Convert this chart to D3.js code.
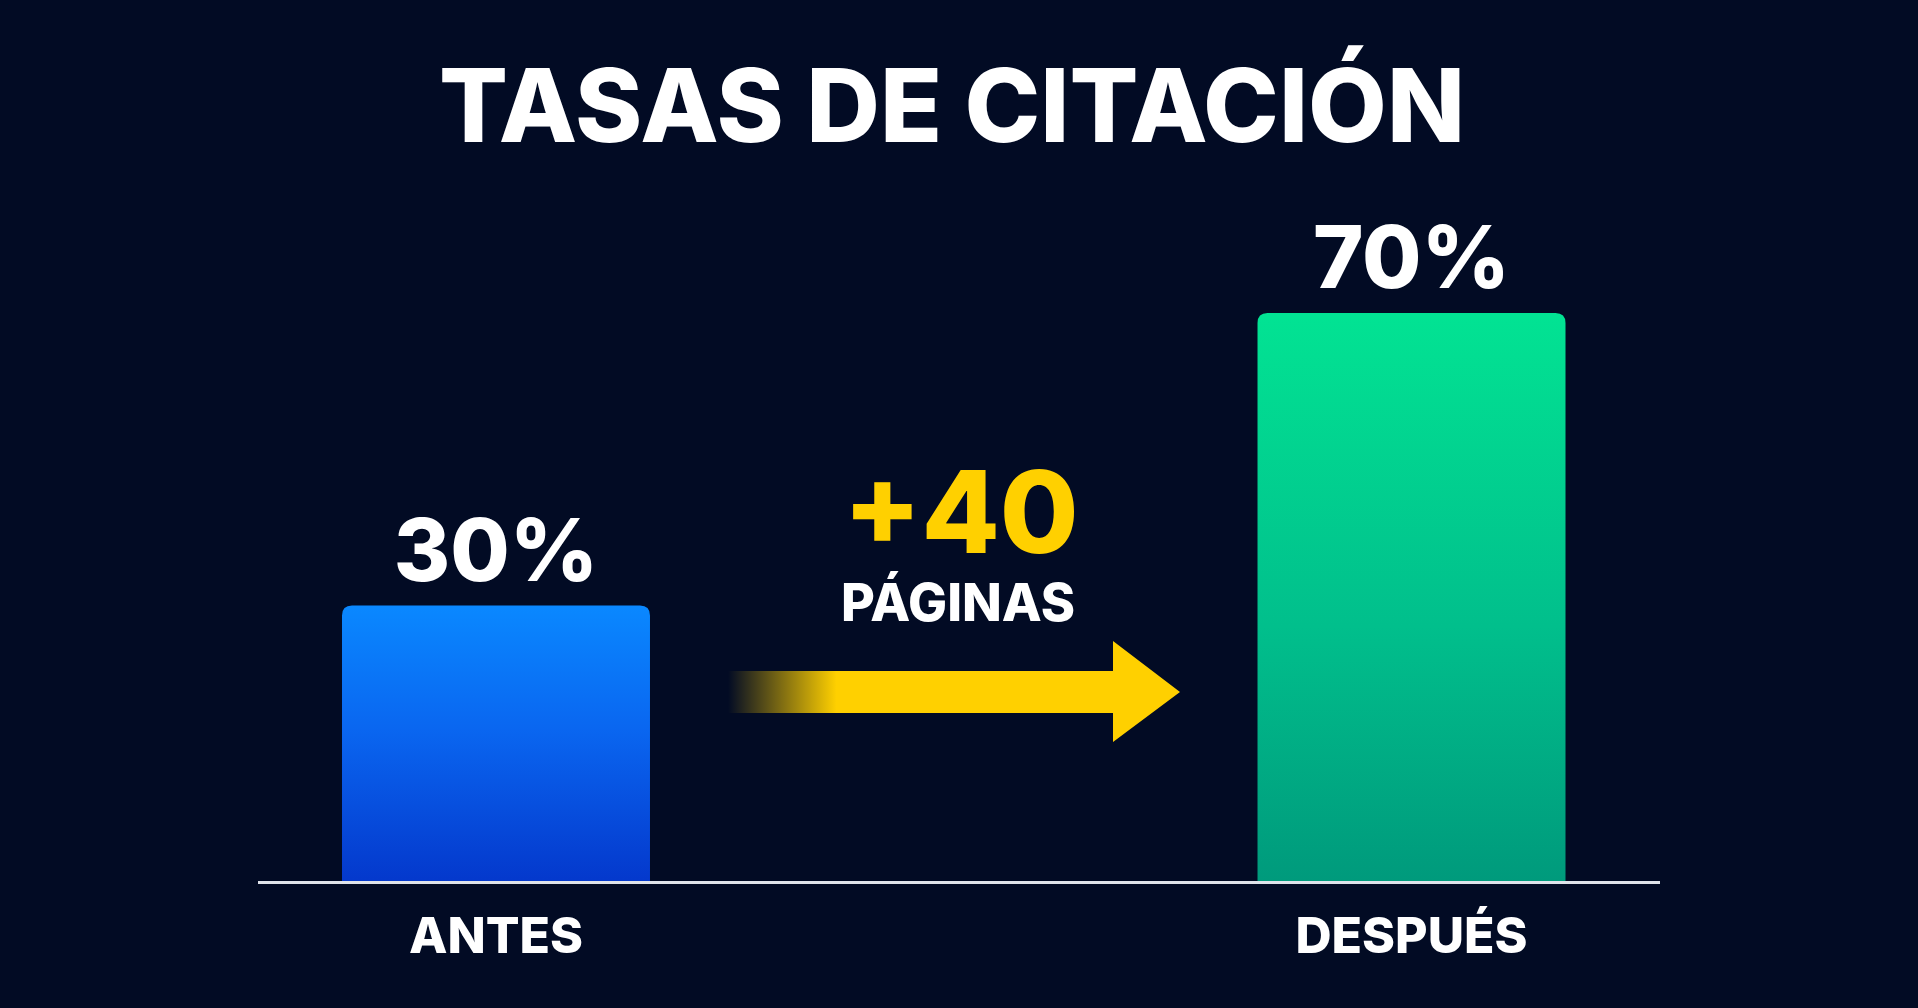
<!DOCTYPE html>
<html><head><meta charset="utf-8">
<script src="https://cdn.jsdelivr.net/npm/d3@7"></script>
<style>
html,body{margin:0;padding:0;background:#020b24;overflow:hidden}
svg{display:block}
text{font-family:Inter,"Noto Sans",sans-serif;font-weight:800}
</style></head><body>
<svg id="c" width="1918" height="1008"></svg>
<script>
const title = "TASAS DE CITACIÓN";
const categories = ["ANTES", "DESPUÉS"];
const values = [30, 70];
const valueLabels = ["30%", "70%"];
const deltaLabel = "+40";
const deltaSub = "PÁGINAS";

const W = 1918, H = 1008;
const svg = d3.select("#c");
const defs = svg.append("defs");

const gBlue = defs.append("linearGradient").attr("id","gBlue").attr("x1",0).attr("y1",0).attr("x2",0).attr("y2",1);
gBlue.append("stop").attr("offset","0%").attr("stop-color","#0a88ff");
gBlue.append("stop").attr("offset","45%").attr("stop-color","#0a66f0");
gBlue.append("stop").attr("offset","100%").attr("stop-color","#0438cc");
const gGreen = defs.append("linearGradient").attr("id","gGreen").attr("x1",0).attr("y1",0).attr("x2",0).attr("y2",1);
gGreen.append("stop").attr("offset","0%").attr("stop-color","#02e393");
gGreen.append("stop").attr("offset","55%").attr("stop-color","#01bf8c");
gGreen.append("stop").attr("offset","100%").attr("stop-color","#009a7c");
const gArrow = defs.append("linearGradient").attr("id","gArrow").attr("x1",0).attr("y1",0).attr("x2",1).attr("y2",0);
gArrow.append("stop").attr("offset","0%").attr("stop-color","#ffd000").attr("stop-opacity",0);
gArrow.append("stop").attr("offset","24%").attr("stop-color","#ffd000").attr("stop-opacity",1);
gArrow.append("stop").attr("offset","100%").attr("stop-color","#ffd000").attr("stop-opacity",1);

const x = d3.scaleBand().domain(categories).range([342, 1565.5]).paddingInner(0.6636).paddingOuter(0);
const y = d3.scaleLinear().domain([-7.8, 70]).range([882, 313]);
const fills = ["url(#gBlue)", "url(#gGreen)"];

svg.append("text").attr("x", 952).attr("y", 142).attr("text-anchor","middle")
  .attr("fill","#ffffff").attr("font-size",102).text(title);

const bars = svg.append("g");
categories.forEach((c,i)=>{
  const x0 = x(c), w = x.bandwidth(), top = y(values[i]), bot = y(-7.8), r = 10;
  const p = d3.path();
  p.moveTo(x0, bot); p.lineTo(x0, top + r); p.quadraticCurveTo(x0, top, x0 + r, top);
  p.lineTo(x0 + w - r, top); p.quadraticCurveTo(x0 + w, top, x0 + w, top + r);
  p.lineTo(x0 + w, bot); p.closePath();
  bars.append("path").attr("d", p.toString()).attr("fill", fills[i]);
  svg.append("text").attr("x", x0 + w/2).attr("y", top - 25).attr("text-anchor","middle")
    .attr("fill","#ffffff").attr("font-size",86).text(valueLabels[i]);
  svg.append("text").attr("x", x0 + w/2).attr("y", 953).attr("text-anchor","middle")
    .attr("fill","#ffffff").attr("font-size",50).text(c);
});

svg.append("line").attr("x1",258).attr("x2",1660).attr("y1",882.5).attr("y2",882.5)
  .attr("stroke","#dfe3ea").attr("stroke-width",3);

// arrow
const ap = d3.path();
ap.moveTo(728, 671); ap.lineTo(1113, 671); ap.lineTo(1113, 641); ap.lineTo(1180, 692);
ap.lineTo(1113, 742); ap.lineTo(1113, 713); ap.lineTo(728, 713); ap.closePath();
svg.append("path").attr("d", ap.toString()).attr("fill","url(#gArrow)");

svg.append("text").attr("x", 961).attr("y", 553).attr("text-anchor","middle")
  .attr("fill","#ffd000").attr("font-size",114).text(deltaLabel);
svg.append("text").attr("x", 958).attr("y", 621).attr("text-anchor","middle")
  .attr("fill","#ffffff").attr("font-size",52).text(deltaSub);
</script></body></html>
